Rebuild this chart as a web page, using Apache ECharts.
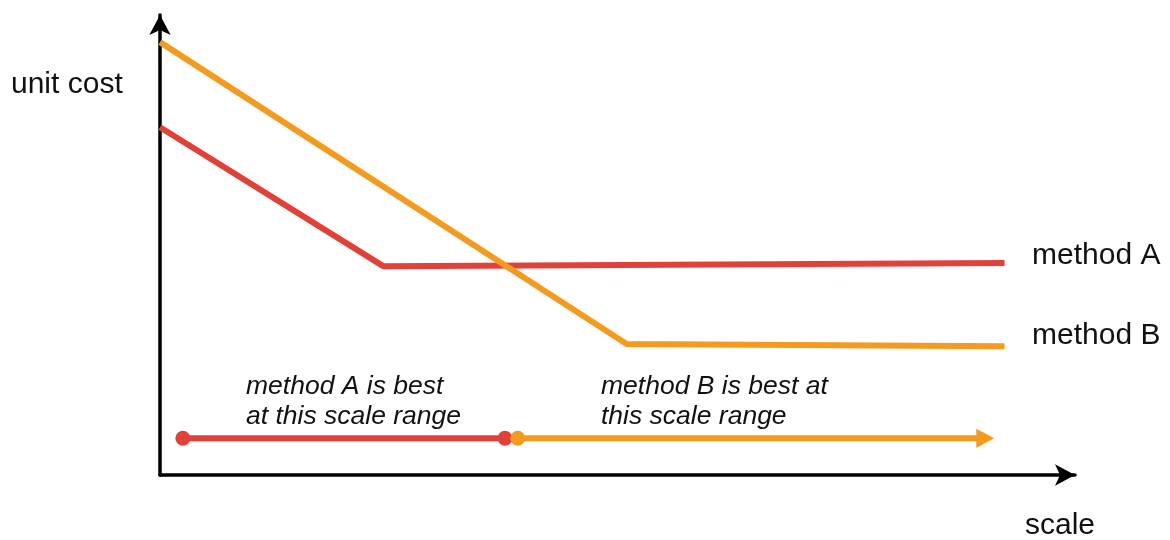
<!DOCTYPE html>
<html>
<head>
<meta charset="utf-8">
<script src="https://cdn.jsdelivr.net/npm/echarts@6/dist/echarts.min.js"></script>
<style>html,body{margin:0;padding:0;background:#fff}#c{width:1170px;height:540px}</style>
</head>
<body>
<div id="c"></div>
<script>
// Values on a 0-100 schematic scale (x: scale, y: unit cost)
var methodA = [[0, 75.6], [24.4, 45.4], [92.3, 46.1]];
var methodB = [[0, 94.1], [51.0, 28.5], [92.3, 28.0]];
var rangeA = [[2.5, 8.0], [37.7, 8.0]];
var rangeB = [[39.1, 8.0], [90.2, 8.0]];
var axisNames = ['scale', 'unit cost'];
var seriesNames = ['method A', 'method B'];
var rangeTexts = ['method A is best\nat this scale range', 'method B is best at\nthis scale range'];

var RED = '#e2413a', ORANGE = '#f39b1f';
var chart = echarts.init(document.getElementById('c'));
var font = '"Liberation Sans", Arial, sans-serif';

chart.setOption({
  animation: false,
  grid: {left: 160, right: 95, top: 15, bottom: 65},
  xAxis: {
    type: 'value', min: 0, max: 100,
    axisLine: {show: true, symbol: ['none', 'arrow'], symbolSize: [16, 20], lineStyle: {color: '#000', width: 3.5}},
    axisTick: {show: false}, axisLabel: {show: false}, splitLine: {show: false}
  },
  yAxis: {
    type: 'value', min: 0, max: 100,
    axisLine: {show: true, symbol: ['none', 'arrow'], symbolSize: [16, 20], lineStyle: {color: '#000', width: 3.5}},
    axisTick: {show: false}, axisLabel: {show: false}, splitLine: {show: false}
  },
  series: [
    {name: seriesNames[0], type: 'line', data: methodA, symbol: 'none', lineStyle: {color: RED, width: 6}},
    {name: seriesNames[1], type: 'line', data: methodB, symbol: 'none', lineStyle: {color: ORANGE, width: 6}},
    {type: 'line', data: rangeA, symbol: 'circle', symbolSize: 15, itemStyle: {color: RED}, lineStyle: {color: RED, width: 6}},
    {type: 'line', data: [
        {value: rangeB[0], symbol: 'circle', symbolSize: 15},
        {value: rangeB[1], symbol: 'triangle', symbolSize: [19, 18], symbolRotate: -90}
      ], itemStyle: {color: ORANGE}, lineStyle: {color: ORANGE, width: 6}}
  ],
  graphic: [
    {type: 'text', left: 11, top: 70, style: {text: axisNames[1], font: '30px ' + font, fill: '#111'}},
    {type: 'text', left: 1025, top: 511, style: {text: axisNames[0], font: '30px ' + font, fill: '#111'}},
    {type: 'text', left: 1032, top: 241, style: {text: seriesNames[0], font: '30px ' + font, fill: '#111'}},
    {type: 'text', left: 1032, top: 321, style: {text: seriesNames[1], font: '30px ' + font, fill: '#111'}},
    {type: 'text', left: 246, top: 372, style: {text: rangeTexts[0], font: 'italic 26.5px ' + font, lineHeight: 30, fill: '#111'}},
    {type: 'text', left: 601, top: 372, style: {text: rangeTexts[1], font: 'italic 26.5px ' + font, lineHeight: 30, fill: '#111'}}
  ]
});
</script>
</body>
</html>
